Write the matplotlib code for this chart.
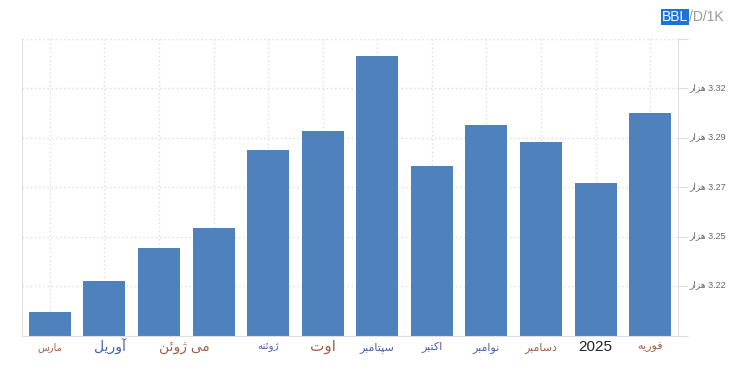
import matplotlib
matplotlib.use("Agg")
import matplotlib.pyplot as plt
from matplotlib.transforms import ScaledTranslation, blended_transform_factory

# داده ها (هزار بشکه در روز)
bar_values = [3.2118, 3.2265, 3.2423, 3.2518, 3.2885, 3.2980,
              3.3333, 3.2809, 3.3004, 3.2923, 3.2732, 3.3061]
month_labels = ["مارس", "آوریل", "می ژوئن", "ژوئنه", "اوت", "سپتامبر",
                "اکتبر", "نوامبر", "دسامبر", "2025", "فوریه"]
month_pos = [0, 1.1, 2.46, 4, 5, 6, 7, 8, 9, 10, 11]
month_colors = ["#a0604a", "#4a5fa8", "#a0604a", "#4a5fa8", "#a0604a", "#4a5fa8",
                "#4a5fa8", "#4a5fa8", "#a0604a", "#222222", "#a0604a"]
month_sizes = [7, 10, 10, 7.5, 11, 8, 8, 8, 8, 11, 8]
y_ticks = [3.2005, 3.224, 3.2475, 3.271, 3.2945, 3.318, 3.3415]
y_tick_text = ["", "3.22", "3.25", "3.27", "3.29", "3.32", ""]

# اشکال حروف عربی/فارسی: (تنها، پایانی، آغازی، میانی)
FORMS = {
    "ا": (0xFE8D, 0xFE8E), "آ": (0xFE81, 0xFE82),
    "ب": (0xFE8F, 0xFE90, 0xFE91, 0xFE92), "پ": (0xFB56, 0xFB57, 0xFB58, 0xFB59),
    "ت": (0xFE95, 0xFE96, 0xFE97, 0xFE98), "د": (0xFEA9, 0xFEAA),
    "ر": (0xFEAD, 0xFEAE), "ز": (0xFEAF, 0xFEB0), "ژ": (0xFB8A, 0xFB8B),
    "س": (0xFEB1, 0xFEB2, 0xFEB3, 0xFEB4), "ف": (0xFED1, 0xFED2, 0xFED3, 0xFED4),
    "ک": (0xFB8E, 0xFB8F, 0xFB90, 0xFB91), "ل": (0xFEDD, 0xFEDE, 0xFEDF, 0xFEE0),
    "م": (0xFEE1, 0xFEE2, 0xFEE3, 0xFEE4), "ن": (0xFEE5, 0xFEE6, 0xFEE7, 0xFEE8),
    "ه": (0xFEE9, 0xFEEA, 0xFEEB, 0xFEEC), "و": (0xFEED, 0xFEEE),
    "ی": (0xFBFC, 0xFBFD, 0xFBFE, 0xFBFF), "ئ": (0xFE89, 0xFE8A, 0xFE8B, 0xFE8C),
}


def shape(text):
    if not any(c in FORMS for c in text):
        return text
    out = []
    for i, c in enumerate(text):
        if c not in FORMS:
            out.append(c)
            continue
        prev = text[i - 1] if i > 0 else None
        nxt = text[i + 1] if i + 1 < len(text) else None
        f = FORMS[c]
        jp = prev in FORMS and len(FORMS[prev]) == 4
        jn = nxt in FORMS and len(f) == 4
        if jp and jn:
            g = f[3]
        elif jp:
            g = f[1]
        elif jn:
            g = f[2]
        else:
            g = f[0]
        out.append(chr(g))
    return "".join(out)[::-1]


fonts = ["Liberation Sans", "DejaVu Sans"]
plt.rcParams["font.family"] = fonts

fig = plt.figure(figsize=(7.32, 3.71), dpi=100)
ax = fig.add_axes([22 / 732, 35.4 / 371, 656 / 732, 296.6 / 371])

x = list(range(len(bar_values)))
for xi in x:
    ax.axvline(xi, color="#dddddd", lw=1, ls=(0, (1, 2)), zorder=0)
ax.bar(x, bar_values, width=0.77, color="#4f81bd", zorder=2)

ax.set_xlim(-0.51, 11.51)
ax.set_ylim(y_ticks[0], y_ticks[-1])

ax.yaxis.tick_right()
ax.set_yticks(y_ticks)
ax.set_yticklabels([shape("هزار") + " " + t if t else "" for t in y_tick_text],
                   fontsize=6.5, color="#666666")
ax.tick_params(axis="y", length=7, color="#dddddd", pad=1)
ax.grid(axis="y", color="#dddddd", lw=1, ls=(0, (1, 2)), zorder=0)
for lab in ax.get_yticklabels():
    lab.set_transform(lab.get_transform() + ScaledTranslation(0, 1.5 / 72, fig.dpi_scale_trans))

ax.set_xticks([])
trans = blended_transform_factory(ax.transData, ax.transAxes)
for p, m, c, s in zip(month_pos, month_labels, month_colors, month_sizes):
    ax.text(p, -0.039, shape(m), color=c, fontsize=s, ha="center", va="center",
            transform=trans)

for side in ["left", "bottom", "right"]:
    ax.spines[side].set_color("#e0e0e0")
ax.spines["top"].set_visible(False)

fig.text(662 / 732, 1 - 17 / 371, "BBL", color="white", fontsize=10, va="center",
         ha="left", bbox=dict(facecolor="#1a73d9", edgecolor="none", pad=0.8))
fig.text(689 / 732, 1 - 17 / 371, "/D/1K", color="#999999", fontsize=10,
         va="center", ha="left")

fig.savefig("out.png", dpi=100)
